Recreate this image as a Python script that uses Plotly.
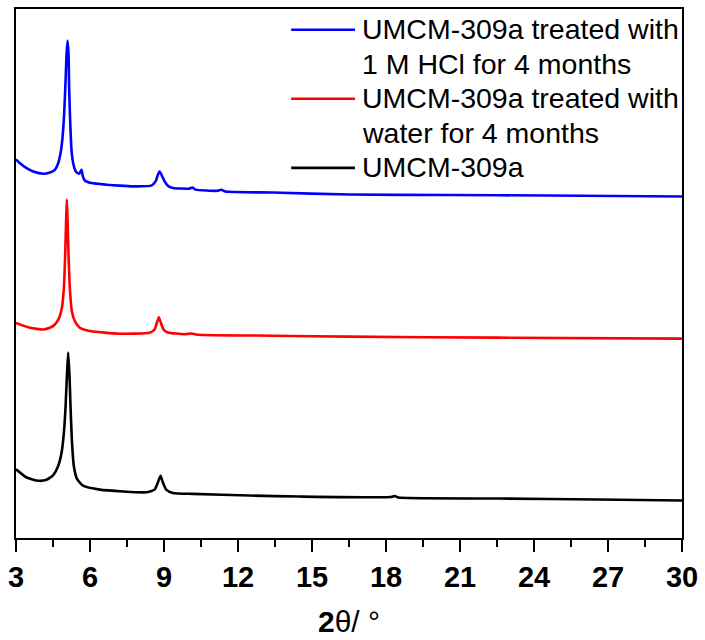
import plotly.graph_objects as go

# ---- data (2θ in degrees, intensity in arbitrary units, stacked offsets as in the figure) ----
blue_x = [3.000, 3.162, 3.432, 3.699, 4.103, 4.374, 4.576, 4.710, 4.807, 4.888, 4.952, 5.009,
          5.049, 5.090, 5.130, 5.154, 5.195, 5.251, 5.316, 5.425, 5.559, 5.656, 5.710, 5.789,
          6.060, 6.666, 7.204, 7.741, 8.485, 8.659, 8.752, 8.820, 8.901, 9.023, 9.156, 9.358,
          10.03, 10.15, 10.28, 11.16, 11.33, 11.49, 13.39, 16.50, 20.54, 24.58, 30.00]
blue_y = [383.7, 379.7, 374.7, 371.3, 369, 370.3, 373, 379.7, 390, 406.3, 430, 463,
          490, 504, 490, 456.3, 423, 393, 380, 371.3, 369, 373, 366.5, 362.3,
          359.7, 358, 357, 356.3, 357, 361.3, 368, 371.3, 368, 361.3, 357, 354.7,
          354, 355.2, 353, 351.8, 352.8, 351, 350, 348, 347.5, 347, 346]

red_x = [3.000, 3.566, 4.103, 4.374, 4.576, 4.750, 4.859, 4.940, 4.993, 5.033, 5.061, 5.090,
         5.130, 5.183, 5.264, 5.385, 5.587, 5.991, 7.204, 8.416, 8.618, 8.711, 8.792, 8.873,
         8.982, 9.156, 9.83, 10.10, 10.36, 13.39, 16.50, 22.56, 30.00]
red_y = [218, 213, 211.3, 213, 216.3, 223, 233, 253, 286.3, 323, 343, 323,
         286.3, 253, 229.7, 219.7, 213, 209.7, 207, 208, 211.3, 218, 223.7, 218,
         211.3, 208.3, 206.5, 207.2, 206, 205, 204, 203, 202]

black_x = [3.000, 3.432, 3.901, 4.241, 4.508, 4.710, 4.847, 4.940, 5.009, 5.061, 5.114, 5.171,
           5.211, 5.264, 5.344, 5.478, 5.720, 6.395, 8.283, 8.618, 8.752, 8.861, 8.954, 9.091,
           9.358, 10.167, 12.458, 14.48, 18.20, 18.35, 18.50, 22.56, 26.60, 30.00]
black_y = [69.7, 61.3, 58, 59, 63.7, 73, 86.3, 106.3, 133, 163, 188, 163,
           133, 99.7, 73, 59.7, 53, 49, 46.3, 49, 56.3, 63, 56.3, 49,
           45.7, 44.7, 43, 42, 41.5, 42.5, 41, 40, 39, 38]

series_names = [
    ["UMCM-309a treated with", "1 M HCl for 4 months"],
    ["UMCM-309a treated with", "water for 4 months"],
    ["UMCM-309a"],
]
series_colors = ["#0000FF", "#FF0000", "#000000"]
x_ticks = [3, 6, 9, 12, 15, 18, 21, 24, 27, 30]
x_minor = [4.5, 7.5, 10.5, 13.5, 16.5, 19.5, 22.5, 25.5, 28.5]

fig = go.Figure()
for xs, ys, nm, col in [(blue_x, blue_y, series_names[0], series_colors[0]),
                        (red_x, red_y, series_names[1], series_colors[1]),
                        (black_x, black_y, series_names[2], series_colors[2])]:
    fig.add_trace(go.Scatter(x=xs, y=ys, mode="lines", name=" ".join(nm),
                             line=dict(color=col, width=2.6, shape="spline", smoothing=0.5),
                             showlegend=False))

# ---- manual legend (long line samples, wrapped text) ----
W_PLOT = 668.0
H_PLOT = 536.0
def px_x(p):
    return (p - 16) / W_PLOT
def px_y(p):
    return (543 - p) / H_PLOT

legend_line_y = [28, 98, 168]
text_rows = [[27.5, 62.5], [97.5, 132.5], [167.5]]
for i, col in enumerate(series_colors):
    fig.add_shape(type="line", xref="paper", yref="paper",
                  x0=px_x(292), x1=px_x(356), y0=px_y(legend_line_y[i]), y1=px_y(legend_line_y[i]),
                  line=dict(color=col, width=2.6))
    for txt, ty in zip(series_names[i], text_rows[i]):
        fig.add_annotation(text=txt, xref="paper", yref="paper", x=px_x(361), y=px_y(ty),
                           xanchor="left", yanchor="middle", showarrow=False,
                           font=dict(family="Liberation Sans, Arial", size=28.5, color="black"))

fig.update_layout(
    width=705, height=640,
    margin=dict(l=16, r=21, t=7, b=97),
    paper_bgcolor="white", plot_bgcolor="white",
    xaxis=dict(range=[3, 30], tickvals=x_ticks, ticktext=[str(v) for v in x_ticks],
               ticks="outside", ticklen=12, tickwidth=2, tickcolor="black",
               minor=dict(tickvals=x_minor, ticks="outside", ticklen=7, tickwidth=2,
                          tickcolor="black"),
               showline=True, linecolor="black", linewidth=2, mirror=True,
               showgrid=False, zeroline=False,
               tickfont=dict(family="Liberation Sans, Arial", size=29, color="black", weight="bold"),
               title=dict(text="<b>2</b>θ/ °", standoff=19,
                          font=dict(family="Liberation Sans, Arial", size=30, color="black"))),
    yaxis=dict(range=[0, 536], showticklabels=False, ticks="", showgrid=False, zeroline=False,
               showline=True, linecolor="black", linewidth=2, mirror=True),
)

fig.write_html("out.html")
